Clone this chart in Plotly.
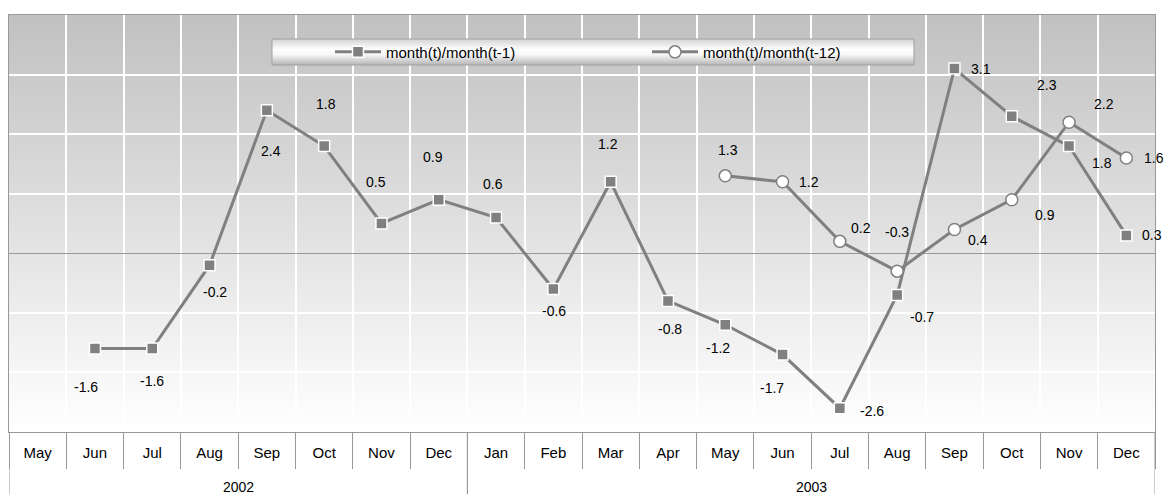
import base64
import struct
import zlib

import plotly.graph_objects as go

# ---------------- data ----------------
years = ["2002"] * 8 + ["2003"] * 12
months = ["May", "Jun", "Jul", "Aug", "Sep", "Oct", "Nov", "Dec",
          "Jan", "Feb", "Mar", "Apr", "May", "Jun", "Jul", "Aug",
          "Sep", "Oct", "Nov", "Dec"]
mom = [None, -1.6, -1.6, -0.2, 2.4, 1.8, 0.5, 0.9, 0.6, -0.6, 1.2, -0.8,
       -1.2, -1.7, -2.6, -0.7, 3.1, 2.3, 1.8, 0.3]
yoy = [None] * 12 + [1.3, 1.2, 0.2, -0.3, 0.4, 0.9, 2.2, 1.6]
series_names = ["month(t)/month(t-1)", "month(t)/month(t-12)"]

# ---------------- label placement (pixel offsets, style only) ----------------
mom_off = [(0, 0), (-9, 38), (0, 32), (5, 27), (4, 41), (2, -42), (-5, -42),
           (-6, -43), (-3, -34), (1, 22), (-3, -38), (2, 28), (-7, 23),
           (-11, 33), (32, 3), (25, 22), (27, 0), (35, -31), (33, 17), (26, 0)]
yoy_off = [(0, 0)] * 12 + [(3, -26), (26, 0), (21, -13), (0, -39), (24, 11),
                           (33, 15), (35, -18), (28, 0)]

FONT = "Arial, Liberation Sans, sans-serif"
LINE_C = "#808080"
AX_C = "#999999"

# unique category keys (month + year), displayed as month names
keys = [f"{m} {y}" for m, y in zip(months, years)]


def png_gradient(vals):
    """Vertical grey gradient PNG (top -> bottom) as a data URI."""
    w, h = 2, len(vals)
    raw = b"".join(b"\x00" + bytes([v, v, v]) * w for v in vals)

    def chunk(tag, data):
        c = struct.pack(">I", len(data)) + tag + data
        return c + struct.pack(">I", zlib.crc32(tag + data) & 0xFFFFFFFF)

    png = (b"\x89PNG\r\n\x1a\n"
           + chunk(b"IHDR", struct.pack(">IIBBBBB", w, h, 8, 2, 0, 0, 0))
           + chunk(b"IDAT", zlib.compress(raw))
           + chunk(b"IEND", b""))
    return "data:image/png;base64," + base64.b64encode(png).decode()


def interp(pts, t):
    for (a, ca), (b, cb) in zip(pts[:-1], pts[1:]):
        if a <= t <= b:
            return int(round(ca + (cb - ca) * (t - a) / (b - a)))
    return pts[-1][1]


bg_img = png_gradient([interp([(0, 193), (1, 255)], k / 255) for k in range(256)])
lg_img = png_gradient([interp([(0.0, 212), (0.4, 255), (0.6, 248), (1.0, 182)], k / 63)
                       for k in range(64)])

fig = go.Figure()
fig.add_trace(go.Scatter(
    x=keys, y=mom, name=series_names[0], mode="lines+markers",
    line=dict(color=LINE_C, width=3),
    marker=dict(symbol="square", size=11, color=LINE_C,
                line=dict(color="white", width=1.5)),
    connectgaps=False, hoverinfo="skip"))
fig.add_trace(go.Scatter(
    x=keys, y=yoy, name=series_names[1], mode="lines+markers",
    line=dict(color=LINE_C, width=3),
    marker=dict(symbol="circle", size=12, color="white",
                line=dict(color=LINE_C, width=1.5)),
    connectgaps=False, hoverinfo="skip"))

# data labels
annotations = []
for vals, offs in ((mom, mom_off), (yoy, yoy_off)):
    for i, v in enumerate(vals):
        if v is None:
            continue
        dx, dy = offs[i]
        annotations.append(dict(
            x=keys[i], y=v, xref="x", yref="y", text=f"{v:g}", showarrow=False,
            xshift=dx, yshift=-dy, font=dict(family=FONT, size=14, color="black")))

# year labels + year dividers in the category table
shapes = []
year_order = list(dict.fromkeys(years))
for yv in year_order:
    idx = [i for i, y in enumerate(years) if y == yv]
    annotations.append(dict(
        x=(idx[0] + idx[-1]) / 2, y=-0.133, xref="x", yref="paper", text=yv,
        showarrow=False, yanchor="middle",
        font=dict(family=FONT, size=14, color="black")))
    for b in (idx[0] - 0.5, idx[-1] + 0.5):
        shapes.append(dict(type="line", xref="x", yref="paper", x0=b, x1=b,
                           y0=0, y1=-0.2, line=dict(color=AX_C, width=1)))

# legend box outline
lx0, lx1, ly0, ly1 = 0.2295, 0.7897, 0.880, 0.9424
shapes.append(dict(type="rect", xref="paper", yref="paper", x0=lx0, x1=lx1,
                   y0=ly0, y1=ly1, fillcolor="rgba(0,0,0,0)",
                   line=dict(color="#a0a0a0", width=1), layer="above"))

images = [
    dict(source=bg_img, xref="x domain", yref="y domain", x=0, y=1,
         sizex=1, sizey=1, sizing="stretch", xanchor="left", yanchor="top",
         layer="below"),
    dict(source=lg_img, xref="paper", yref="paper", x=lx0, y=ly1,
         sizex=lx1 - lx0, sizey=ly1 - ly0, sizing="stretch",
         xanchor="left", yanchor="top", layer="above"),
]

fig.update_layout(
    width=1164, height=494,
    margin=dict(l=9, r=9, t=15, b=62, autoexpand=False),
    paper_bgcolor="white", plot_bgcolor="white",
    font=dict(family=FONT, size=15, color="black"),
    showlegend=True,
    legend=dict(orientation="h", x=0.2801, y=0.911, xanchor="left", yanchor="middle",
                bgcolor="rgba(0,0,0,0)", borderwidth=0, itemwidth=46,
                entrywidth=256, font=dict(family=FONT, size=15, color="black")),
    annotations=annotations,
    shapes=shapes,
    images=images,
)
fig.update_xaxes(
    type="category", range=[-0.5, len(keys) - 0.5], automargin=False,
    tickmode="array", tickvals=keys, ticktext=months, tickson="boundaries",
    showgrid=True, gridcolor="white", gridwidth=1.5,
    showline=True, linecolor=AX_C, linewidth=1, mirror=True,
    ticks="outside", ticklen=36, tickcolor=AX_C, tickwidth=1,
    ticklabelstandoff=7,
    tickfont=dict(family=FONT, size=15, color="black"),
)
fig.update_yaxes(
    range=[-3, 4], dtick=1, showticklabels=False, ticks="", automargin=False,
    showgrid=True, gridcolor="white", gridwidth=1.5,
    zeroline=True, zerolinecolor=AX_C, zerolinewidth=1,
    showline=True, linecolor=AX_C, linewidth=1, mirror=True,
)

# remove the default 8px page margin so the 1164x494 figure fills the window
fig.write_html(
    "out.html",
    config={"displayModeBar": False},
    post_script="document.body.style.margin='0';document.body.style.overflow='hidden';",
)
